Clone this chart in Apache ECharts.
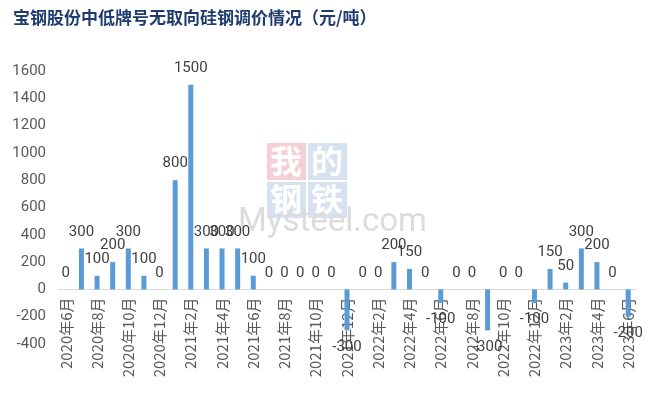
<!DOCTYPE html>
<html>
<head>
<meta charset="utf-8">
<script src="https://cdn.jsdelivr.net/npm/echarts@6/dist/echarts.min.js"></script>
<style>
    html, body { margin: 0; padding: 0; background: #fff; }
    #main { width: 660px; height: 397px; }
</style>
</head>
<body>
<div id="main"></div>
<script>
// 月份 2020年6月 - 2023年6月
const months = [
    "2020年6月", "2020年7月", "2020年8月", "2020年9月", "2020年10月", "2020年11月", "2020年12月",
    "2021年1月", "2021年2月", "2021年3月", "2021年4月", "2021年5月", "2021年6月", "2021年7月",
    "2021年8月", "2021年9月", "2021年10月", "2021年11月", "2021年12月",
    "2022年1月", "2022年2月", "2022年3月", "2022年4月", "2022年5月", "2022年6月", "2022年7月",
    "2022年8月", "2022年9月", "2022年10月", "2022年11月", "2022年12月",
    "2023年1月", "2023年2月", "2023年3月", "2023年4月", "2023年5月", "2023年6月"
]
// 调价 元/吨
const priceChange = [
    0, 300, 100, 200, 300, 100, 0,
    800, 1500, 300, 300, 300, 100, 0,
    0, 0, 0, 0, -300,
    0, 0, 200, 150, 0, -100, 0,
    0, -300, 0, 0, -100,
    150, 50, 300, 200, 0, -200
]
const yTicks = { min: -400, max: 1600, interval: 200 }

const gridTop = 71
const gridBottom = 53
const gridHeight = 397 - gridTop - gridBottom
// 横轴放到0刻度处
const zeroOffset = (0 - yTicks.min) / (yTicks.max - yTicks.min) * gridHeight

const chart = echarts.init(document.getElementById("main"))

const barData = priceChange.map(function (v) {
    return { value: v, label: { position: v < 0 ? 'bottom' : 'top' } }
})

const option = {
    animation: false,
    textStyle: { fontFamily: "Roboto, 'Noto Sans CJK SC', sans-serif" },
    title: {
        text: '宝钢股份中低牌号无取向硅钢调价情况（元/吨）',
        left: 8,
        top: 4,
        textStyle: {
            fontFamily: "'Noto Sans CJK SC'",
            fontSize: 17,
            fontWeight: 'bold',
            color: '#1f3b70'
        }
    },
    graphic: [
        { type: 'rect', left: 267, top: 143, shape: { width: 39, height: 37 }, style: { fill: '#f5cfd4' }, z: -1 },
        { type: 'rect', left: 308, top: 143, shape: { width: 39, height: 37 }, style: { fill: '#d6e2ef' }, z: -1 },
        { type: 'rect', left: 267, top: 182, shape: { width: 39, height: 36 }, style: { fill: '#d6e2ef' }, z: -1 },
        { type: 'rect', left: 308, top: 182, shape: { width: 39, height: 36 }, style: { fill: '#d6e2ef' }, z: -1 },
        { type: 'text', left: 270, top: 145, style: { text: '我', fill: '#fff', font: 'bold 32px "Noto Sans CJK SC"' }, z: -1 },
        { type: 'text', left: 311, top: 145, style: { text: '的', fill: '#fff', font: 'bold 32px "Noto Sans CJK SC"' }, z: -1 },
        { type: 'text', left: 270, top: 183, style: { text: '钢', fill: '#fff', font: 'bold 32px "Noto Sans CJK SC"' }, z: -1 },
        { type: 'text', left: 311, top: 183, style: { text: '铁', fill: '#fff', font: 'bold 32px "Noto Sans CJK SC"' }, z: -1 },
        { type: 'text', left: 238, top: 206, style: { text: 'Mysteel.com', fill: '#dcdcdc', font: '33px Roboto' }, z: -1 }
    ],
    grid: {
        left: 58,
        right: 24,
        top: gridTop,
        bottom: gridBottom,
        containLabel: false,
        outerBoundsMode: 'none'
    },
    xAxis: {
        type: 'category',
        data: months,
        offset: -zeroOffset,
        axisLine: { onZero: false, lineStyle: { color: '#d9d9d9' } },
        axisTick: { interval: 1, length: 5, lineStyle: { color: '#d9d9d9' } },
        axisLabel: {
            interval: 1,
            rotate: 90,
            margin: 8,
            fontSize: 15,
            color: '#595959',
            fontFamily: "'Noto Sans CJK SC'"
        }
    },
    yAxis: {
        type: 'value',
        min: yTicks.min,
        max: yTicks.max,
        interval: yTicks.interval,
        axisLine: { show: false },
        axisTick: { show: false },
        splitLine: { show: false },
        axisLabel: {
            fontSize: 15,
            color: '#595959',
            margin: 12,
            formatter: function (v) { return String(v) }
        }
    },
    series: [
        {
            type: 'bar',
            data: barData,
            barWidth: 5,
            itemStyle: { color: '#5b9bd5' },
            label: {
                show: true,
                distance: 9,
                fontSize: 15,
                color: '#404040'
            }
        }
    ]
}

chart.setOption(option)
</script>
</body>
</html>
